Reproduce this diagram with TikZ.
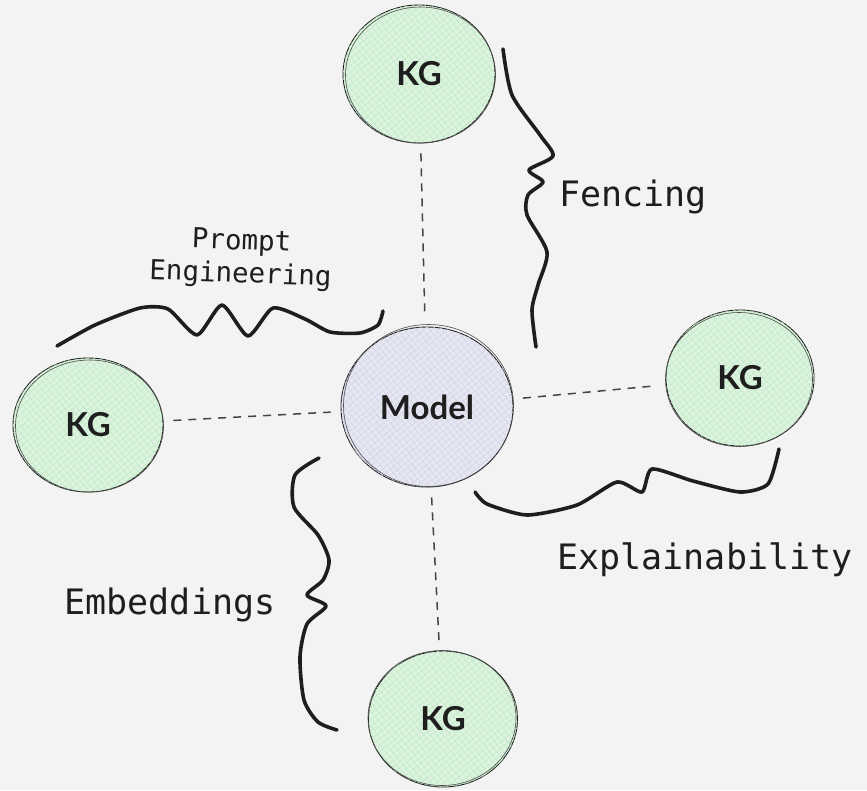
\documentclass[tikz,border=0pt]{standalone}
\usepackage{fontspec}
\setmainfont{Lato}
\newfontfamily\codefont{DejaVu Sans Mono}
\usetikzlibrary{shapes.geometric,patterns.meta}

\definecolor{paper}{HTML}{F3F3F3}
\definecolor{ink}{HTML}{1E1E1E}
\definecolor{kgfill}{HTML}{DDF3DF}
\definecolor{kghatch}{HTML}{BDEBC3}
\definecolor{modelfill}{HTML}{E6E7F0}
\definecolor{modelhatch}{HTML}{D2D4EA}
\definecolor{dashgray}{HTML}{444444}

\tikzset{
  bubble/.style={ellipse, draw=ink, line width=0.9pt, inner sep=0pt,
    font=\fontsize{33}{33}\selectfont\bfseries, text=ink},
  kgnode/.style={bubble, fill=kgfill,
    postaction={pattern={Lines[angle=40,distance=5pt,line width=0.5pt]}, pattern color=kghatch},
    postaction={pattern={Lines[angle=-50,distance=5pt,line width=0.5pt]}, pattern color=kghatch}},
  modelnode/.style={bubble, fill=modelfill,
    postaction={pattern={Lines[angle=40,distance=5pt,line width=0.5pt]}, pattern color=modelhatch},
    postaction={pattern={Lines[angle=-50,distance=5pt,line width=0.5pt]}, pattern color=modelhatch}},
  sketch/.style={draw=ink!80, line width=0.6pt},
  link/.style={draw=dashgray, line width=1.5pt, dash pattern=on 8pt off 7pt, shorten <=10pt, shorten >=10pt},
  brace/.style={draw=ink, line width=3.6pt, line cap=round, line join=round},
  codelabel/.style={font=\codefont\fontsize{35}{35}\selectfont, text=ink, inner sep=0pt},
  smalllabel/.style={font=\codefont\fontsize{27.5}{33}\selectfont, text=ink, inner sep=0pt, align=center}
}

\begin{document}
\begin{tikzpicture}[x=1pt,y=-1pt]
  \fill[paper] (0,0) rectangle (867,790);
  \useasboundingbox (0,0) rectangle (867,790);

  % central model and the four knowledge graphs around it
  \node[modelnode, minimum width=172pt, minimum height=160pt] (model) at (427,407) {Model};
  \node[kgnode, minimum width=152pt, minimum height=138pt] (kgtop)    at (419,74)  {KG};
  \node[kgnode, minimum width=148pt, minimum height=136pt] (kgright)  at (740,378) {KG};
  \node[kgnode, minimum width=150pt, minimum height=134pt] (kgleft)   at (88,425)  {KG};
  \node[kgnode, minimum width=149pt, minimum height=136pt] (kgbottom) at (443,719) {KG};

  % second pencil stroke around each bubble
  \draw[sketch] ([shift={(1.5,-1.5)}]model.center) ellipse [x radius=85, y radius=81];
  \draw[sketch] ([shift={(1.5,1)}]kgtop.center) ellipse [x radius=75, y radius=68];
  \draw[sketch] ([shift={(-1,1.5)}]kgright.center) ellipse [x radius=73.5, y radius=67];
  \draw[sketch] ([shift={(1.5,1)}]kgleft.center) ellipse [x radius=74, y radius=66];
  \draw[sketch] ([shift={(-1,-1)}]kgbottom.center) ellipse [x radius=74, y radius=67.5];

  % dashed links
  \draw[link] (kgtop) -- (model);
  \draw[link] (model) -- (kgright);
  \draw[link] (kgleft) -- (model);
  \draw[link] (model) -- (kgbottom);

  % labels
  \node[codelabel] (fencing) at (633,197) {Fencing};
  \node[codelabel] (explain) at (705,560) {Explainability};
  \node[codelabel] (embed)   at (170,605) {Embeddings};
  \node[smalllabel, rotate=-2] (prompt) at (241,259) {Prompt\\Engineering};

  % hand-drawn braces
  \draw[brace] plot[smooth, tension=0.45] coordinates {
    (503,49) (512,95) (540,135) (553,156) (529,170) (543,182) (528,195)
    (527,215) (547,252) (538,285) (532,310) (536,347)};
  \draw[brace] plot[smooth, tension=0.4] coordinates {
    (57,346) (95,325) (140,308) (168,309) (197,335) (222,305) (248,336)
    (273,308) (305,319) (330,332) (360,333) (378,325) (383,311)};
  \draw[brace] plot[smooth, tension=0.4] coordinates {
    (475,492) (487,504) (527,515) (577,505) (617,482) (642,492) (652,469)
    (693,481) (740,492) (768,484) (779,449)};
  \draw[brace] plot[smooth, tension=0.45] coordinates {
    (319,458) (295,475) (294,507) (318,535) (329,560) (323,580) (307,595)
    (326,606) (307,624) (300,657) (304,700) (318,722) (337,730)};
\end{tikzpicture}
\end{document}
